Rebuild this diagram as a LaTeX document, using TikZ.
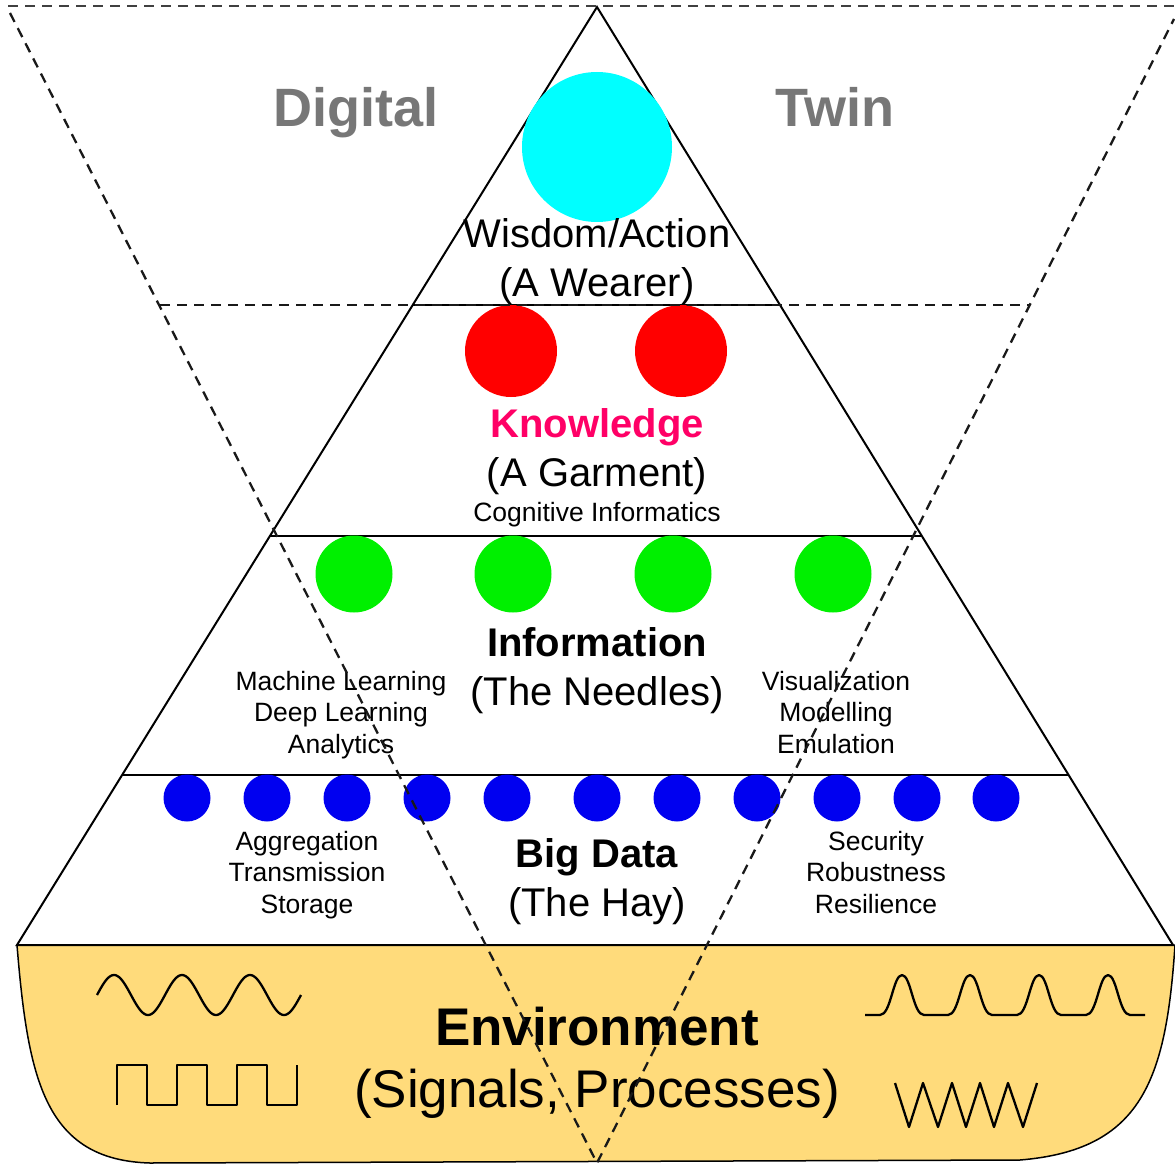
\documentclass[tikz,border=0pt]{standalone}
\usepackage{fontspec}
\setmainfont{Liberation Sans}
\usetikzlibrary{calc}
\definecolor{envyellow}{HTML}{FFDB7B}
\definecolor{knowpink}{HTML}{FF0066}
\definecolor{titlegray}{HTML}{777777}
\definecolor{ballcyan}{HTML}{00FFFF}
\definecolor{ballred}{HTML}{FF0000}
\definecolor{ballgreen}{HTML}{00F000}
\definecolor{ballblue}{HTML}{0000F0}
\begin{document}
\begin{tikzpicture}[x=1pt,y=-1pt,
  solidln/.style={draw=black,line width=2pt},
  dashln/.style={draw=black!90,line width=2.3pt,dash pattern=on 10pt off 7pt},
  wave/.style={draw=black,line width=2.3pt,line join=round},
  ball/.style={circle,draw=none,inner sep=0pt},
  bigtxt/.style={inner sep=0pt,anchor=base,font=\fontsize{40}{48}\selectfont},
  bigbold/.style={bigtxt,font=\fontsize{40}{48}\selectfont\bfseries},
  smalltxt/.style={inner sep=0pt,anchor=base,align=center,font=\fontsize{26.5}{31.5}\selectfont},
  titletxt/.style={inner sep=0pt,anchor=base,text=titlegray,font=\fontsize{54}{60}\selectfont\bfseries}
]
\useasboundingbox (0,0) rectangle (1175,1166);

% environment
\path[fill=envyellow,draw=black,line width=1.5pt]
  (17,945) -- (1175,945) .. controls (1166,1080) and (1142,1150) .. (1020,1160)
  -- (150,1163) .. controls (45,1160) and (28,1080) .. (17,945) -- cycle;

% triangle
\coordinate (apex) at (597,7);
\coordinate (bl) at (17,945);
\coordinate (br) at (1173,945);
\draw[solidln,line join=miter] (apex) -- (bl) -- (br) -- cycle;
\coordinate (l1) at ($(apex)!0.3177!(bl)$);
\coordinate (r1) at ($(apex)!0.3177!(br)$);
\coordinate (l2) at ($(apex)!0.5640!(bl)$);
\coordinate (r2) at ($(apex)!0.5640!(br)$);
\coordinate (l3) at ($(apex)!0.8188!(bl)$);
\coordinate (r3) at ($(apex)!0.8188!(br)$);
\draw[solidln] (l1) -- (r1);
\draw[solidln] (l2) -- (r2);
\draw[solidln] (l3) -- (r3);

% circles
\node[ball,fill=ballcyan,minimum size=150pt] (wis) at (597,147) {};
\node[ball,fill=ballred,minimum size=92pt] (k1) at (511,351) {};
\node[ball,fill=ballred,minimum size=92pt] (k2) at (681,351) {};
\foreach \x [count=\i] in {354,513,673,833}
  \node[ball,fill=ballgreen,minimum size=77pt] (g\i) at (\x,574) {};
\foreach \x [count=\i] in {187,267,347,427,507,597,677,757,837,917,996}
  \node[ball,fill=ballblue,minimum size=47pt] (b\i) at (\x,798) {};

% titles
\node[titletxt] (digital) at (356,127) {Digital};
\node[titletxt] (twin) at (835,127) {Twin};

% level texts
\node[bigtxt] (wis1) at (597,248) {Wisdom/Action};
\node[bigtxt] (wis2) at (597,297) {(A Wearer)};
\node[bigbold,text=knowpink] (kn1) at (597,437) {Knowledge};
\node[bigtxt] (kn2) at (597,486) {(A Garment)};
\node[smalltxt] (kn3) at (597,521) {Cognitive Informatics};
\node[bigbold] (in1) at (597,656) {Information};
\node[bigtxt] (in2) at (597,705) {(The Needles)};
\node[smalltxt] (inl) at (341,753) {Machine Learning\\Deep Learning\\Analytics};
\node[smalltxt] (inr) at (836,753) {Visualization\\Modelling\\Emulation};
\node[bigbold] (bd1) at (597,867) {Big Data};
\node[bigtxt] (bd2) at (597,916) {(The Hay)};
\node[smalltxt] (bdl) at (307,913) {Aggregation\\Transmission\\Storage};
\node[smalltxt] (bdr) at (876,913) {Security\\Robustness\\Resilience};
\node[inner sep=0pt,anchor=base,font=\fontsize{53}{60}\selectfont\bfseries] (env1) at (597,1045) {Environment};
\node[inner sep=0pt,anchor=base,font=\fontsize{53}{60}\selectfont] (env2) at (597,1107) {(Signals, Processes)};

% signals
\draw[wave] plot[domain=97:301,samples=150] (\x,{995-20*sin(5.2941*(\x-97))});
\draw[wave] (117,1105) -- (117,1065) -- (147,1065) -- (147,1105) -- (177,1105) -- (177,1065)
  -- (207,1065) -- (207,1105) -- (237,1105) -- (237,1065) -- (267,1065) -- (267,1105)
  -- (297,1105) -- (297,1065);
\draw[wave] (865,1015) foreach \c in {902,970,1039,1108} {
  -- (\c-22,1015) .. controls (\c-11,1015) and (\c-9,975) .. (\c,975)
  .. controls (\c+9,975) and (\c+11,1015) .. (\c+22,1015) } -- (1145,1015);
\draw[wave] (895,1083) -- (909,1127) -- (923,1083) -- (938,1127) -- (952,1083) -- (966,1127)
  -- (980,1083) -- (994,1127) -- (1008,1083) -- (1023,1127) -- (1037,1083);

% dashed inverted triangle
\coordinate (dtl) at (8,6);
\coordinate (dtr) at (1175,6);
\coordinate (dl) at (10,13);
\coordinate (dr) at (1174,19);
\coordinate (dbot) at (597,1163);
\coordinate (dm1) at (160,305);
\coordinate (dm2) at (1030,305);
\draw[dashln,draw=black!75] (dtl) -- (dtr);
\draw[dashln] (dl) -- (dbot) -- (dr);
\draw[dashln] (dm1) -- (dm2);
\end{tikzpicture}
\end{document}
